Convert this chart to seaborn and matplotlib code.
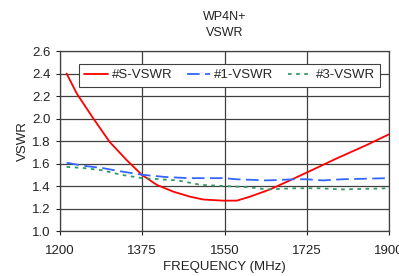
import matplotlib
matplotlib.use("Agg")
import matplotlib.pyplot as plt
import seaborn as sns
import pandas as pd

freq_s = [1214, 1236, 1271, 1306, 1342, 1374, 1406, 1441, 1477, 1505, 1547, 1576, 1604, 1647, 1689, 1725, 1789, 1850, 1900]
vswr_s = [2.40, 2.22, 2.00, 1.79, 1.63, 1.50, 1.41, 1.35, 1.305, 1.28, 1.27, 1.27, 1.305, 1.37, 1.45, 1.52, 1.646, 1.76, 1.86]

freq_1 = [1214, 1250, 1290, 1330, 1375, 1425, 1475, 1550, 1575, 1640, 1700, 1725, 1760, 1800, 1900]
vswr_1 = [1.607, 1.58, 1.56, 1.53, 1.50, 1.48, 1.47, 1.47, 1.46, 1.45, 1.46, 1.46, 1.45, 1.46, 1.47]

freq_3 = [1214, 1250, 1290, 1330, 1375, 1450, 1500, 1550, 1600, 1640, 1700, 1750, 1800, 1900]
vswr_3 = [1.57, 1.56, 1.54, 1.50, 1.47, 1.45, 1.41, 1.40, 1.39, 1.37, 1.38, 1.38, 1.37, 1.38]

x_ticks = [1200, 1375, 1550, 1725, 1900]
y_ticks = [1.0, 1.2, 1.4, 1.6, 1.8, 2.0, 2.2, 2.4, 2.6]

sns.set_style("white")
plt.rcParams['font.family'] = ['Liberation Sans', 'DejaVu Sans']

fig = plt.figure(figsize=(3.99, 2.76), dpi=100)
ax = fig.add_axes([0.1504, 0.163, 0.8246, 0.652])

df_s = pd.DataFrame({"f": freq_s, "v": vswr_s})
df_1 = pd.DataFrame({"f": freq_1, "v": vswr_1})
df_3 = pd.DataFrame({"f": freq_3, "v": vswr_3})

sns.lineplot(data=df_s, x="f", y="v", ax=ax, color="#FF0000", lw=1.3, label="#S-VSWR")
sns.lineplot(data=df_1, x="f", y="v", ax=ax, color="#3366FF", lw=1.3, label="#1-VSWR")
sns.lineplot(data=df_3, x="f", y="v", ax=ax, color="#339966", lw=1.3, label="#3-VSWR")
ax.lines[1].set_dashes([7, 3])
ax.lines[2].set_dashes([2, 2.5])
for ln in ax.lines:
    ln.set_solid_joinstyle('round')

ax.set_xlim(1200, 1900)
ax.set_ylim(1.0, 2.6)
ax.set_xticks(x_ticks)
ax.set_yticks(y_ticks)
ax.set_yticklabels([f"{t:.1f}" for t in y_ticks])
ax.grid(True, color="#404040", lw=0.9)
for sp in ax.spines.values():
    sp.set_color("#404040")
    sp.set_linewidth(0.9)
ax.tick_params(axis='both', labelsize=9.5, colors="#222222", length=3, direction='out', left=True, bottom=True)
ax.tick_params(axis='x', pad=7)
ax.tick_params(axis='y', pad=4)
ax.set_xlabel("FREQUENCY (MHz)", fontsize=9.5, color="#222222", labelpad=3)
ax.set_ylabel("VSWR", fontsize=9.5, color="#222222", labelpad=2)
ax.set_title("WP4N+\nVSWR", fontsize=9, color="#222222", pad=11, linespacing=1.4)

leg = ax.legend(loc="upper center", bbox_to_anchor=(0.515, 0.965), ncol=3, fontsize=9.5,
                frameon=True, fancybox=False, edgecolor="#404040", framealpha=1,
                handlelength=1.8, columnspacing=1.1, borderpad=0.4, handletextpad=0.3)
leg.get_frame().set_linewidth(0.8)

fig.savefig("out.png", dpi=100)
